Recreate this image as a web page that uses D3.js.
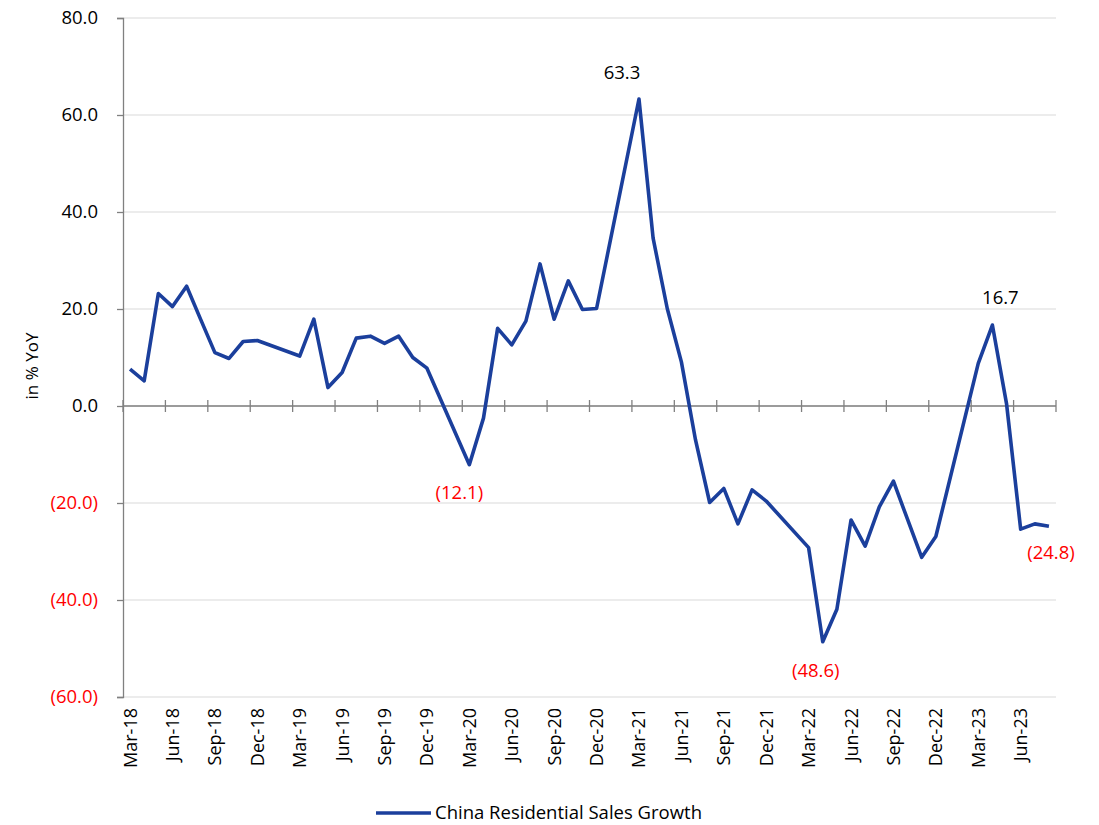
<!DOCTYPE html>
<html>
<head>
<meta charset="utf-8">
<script src="https://cdn.jsdelivr.net/npm/d3@7"></script>
<style>
  body { margin: 0; background: #fff; }
  #chart { width: 1099px; height: 825px; }
  text { font-family: "Open Sans", sans-serif; }
</style>
</head>
<body>
<div id="chart"></div>
<script>
// months on the category axis (Jan/Feb are reported combined, so no value)
const months = [
  "Mar-18","Apr-18","May-18","Jun-18","Jul-18","Aug-18","Sep-18","Oct-18","Nov-18","Dec-18",
  "Jan-19","Feb-19","Mar-19","Apr-19","May-19","Jun-19","Jul-19","Aug-19","Sep-19","Oct-19","Nov-19","Dec-19",
  "Jan-20","Feb-20","Mar-20","Apr-20","May-20","Jun-20","Jul-20","Aug-20","Sep-20","Oct-20","Nov-20","Dec-20",
  "Jan-21","Feb-21","Mar-21","Apr-21","May-21","Jun-21","Jul-21","Aug-21","Sep-21","Oct-21","Nov-21","Dec-21",
  "Jan-22","Feb-22","Mar-22","Apr-22","May-22","Jun-22","Jul-22","Aug-22","Sep-22","Oct-22","Nov-22","Dec-22",
  "Jan-23","Feb-23","Mar-23","Apr-23","May-23","Jun-23","Jul-23","Aug-23"
];

const salesGrowth = [
  7.6, 5.2, 23.2, 20.5, 24.7, 17.8, 11.0, 9.8, 13.3, 13.5,
  null, null, 10.3, 17.9, 3.8, 6.9, 14.0, 14.4, 12.9, 14.4, 10.0, 7.8,
  null, null, -12.1, -2.5, 16.0, 12.6, 17.5, 29.3, 17.9, 25.8, 19.9, 20.1,
  null, null, 63.3, 34.6, 20.1, 9.1, -7.0, -19.9, -17.0, -24.3, -17.3, -19.6,
  null, null, -29.2, -48.6, -41.9, -23.5, -28.9, -20.8, -15.5, -23.4, -31.2, -26.9,
  null, null, 8.8, 16.7, 0.5, -25.4, -24.3, -24.8
];

const yTicks = [80, 60, 40, 20, 0, -20, -40, -60];

// labelled points: month, and label offset from the point
const callouts = [
  { month: "Mar-20", dx: -10, dy: 28 },
  { month: "Mar-21", dx: -17, dy: -26 },
  { month: "Apr-22", dx: -7, dy: 29 },
  { month: "Apr-23", dx: 8, dy: -27 },
  { month: "Aug-23", dx: 2, dy: 26 }
];

const seriesName = "China Residential Sales Growth";

function fmt(v) {
  return v < 0 ? "(" + Math.abs(v).toFixed(1) + ")" : v.toFixed(1);
}

const width = 1099, height = 825;
const margin = { top: 18, right: 43, bottom: 128, left: 123 };
const fontSize = "18.5px";

const svg = d3.select("#chart").append("svg")
  .attr("width", width)
  .attr("height", height);

const x = d3.scaleBand()
  .domain(months)
  .range([margin.left, width - margin.right])
  .padding(0);

const y = d3.scaleLinear()
  .domain([-60, 80])
  .range([height - margin.bottom, margin.top]);

const cx = m => x(m) + x.bandwidth() / 2;

// gridlines
svg.append("g")
  .selectAll("line")
  .data(yTicks)
  .enter()
  .append("line")
  .attr("x1", margin.left)
  .attr("x2", width - margin.right)
  .attr("y1", d => y(d))
  .attr("y2", d => y(d))
  .style("stroke", "#d9d9d9")
  .style("stroke-width", 1);

// y axis
const yAxis = svg.append("g")
  .attr("transform", `translate(${margin.left},0)`)
  .call(d3.axisLeft(y).tickValues(yTicks).tickSize(6).tickPadding(19).tickFormat(fmt));
yAxis.select(".domain").style("stroke", "#808080").style("stroke-width", 1.3);
yAxis.selectAll(".tick line").style("stroke", "#808080").style("stroke-width", 1.3);
yAxis.selectAll(".tick text")
  .style("font-size", fontSize)
  .style("fill", d => d < 0 ? "#ff0000" : "#000");

// y title
svg.append("text")
  .attr("transform", "translate(38,366) rotate(-90)")
  .attr("text-anchor", "middle")
  .style("font-size", "17px")
  .text("in % YoY");

// zero axis with cross ticks every 3 months (on category boundaries)
const zeroY = y(0);
svg.append("line")
  .attr("x1", margin.left)
  .attr("x2", width - margin.right)
  .attr("y1", zeroY)
  .attr("y2", zeroY)
  .style("stroke", "#808080")
  .style("stroke-width", 1.3);

const boundaries = d3.range(0, months.length + 1, 3);
svg.append("g")
  .selectAll("line")
  .data(boundaries)
  .enter()
  .append("line")
  .attr("x1", i => margin.left + i * x.step())
  .attr("x2", i => margin.left + i * x.step())
  .attr("y1", zeroY - 6)
  .attr("y2", zeroY + 6)
  .style("stroke", "#808080")
  .style("stroke-width", 1.3);

// month labels along the bottom
svg.append("g")
  .selectAll("text")
  .data(months.filter((m, i) => i % 3 === 0))
  .enter()
  .append("text")
  .attr("transform", m => `translate(${cx(m) + 6.5},${height - margin.bottom + 11}) rotate(-90)`)
  .attr("text-anchor", "end")
  .style("font-size", "18px")
  .text(m => m);

// the series
const points = months.map((m, i) => ({ month: m, value: salesGrowth[i] }))
  .filter(d => d.value !== null);

const line = d3.line()
  .x(d => cx(d.month))
  .y(d => y(d.value));

svg.append("path")
  .datum(points)
  .attr("d", line)
  .attr("fill", "none")
  .style("stroke", "#1b3f9c")
  .style("stroke-width", 3.6)
  .style("stroke-linejoin", "round");

// data labels
svg.append("g")
  .selectAll("text")
  .data(callouts)
  .enter()
  .append("text")
  .attr("x", d => cx(d.month) + d.dx)
  .attr("y", d => y(salesGrowth[months.indexOf(d.month)]) + d.dy)
  .attr("dy", "0.35em")
  .attr("text-anchor", "middle")
  .style("font-size", fontSize)
  .style("fill", d => salesGrowth[months.indexOf(d.month)] < 0 ? "#ff0000" : "#000")
  .text(d => fmt(salesGrowth[months.indexOf(d.month)]));

// legend
const legend = svg.append("g").attr("transform", "translate(376,813)");
legend.append("line")
  .attr("x1", 0)
  .attr("x2", 55)
  .style("stroke", "#1b3f9c")
  .style("stroke-width", 3.6);
legend.append("text")
  .attr("x", 59)
  .attr("dy", "0.35em")
  .style("font-size", fontSize)
  .text(seriesName);
</script>
</body>
</html>
